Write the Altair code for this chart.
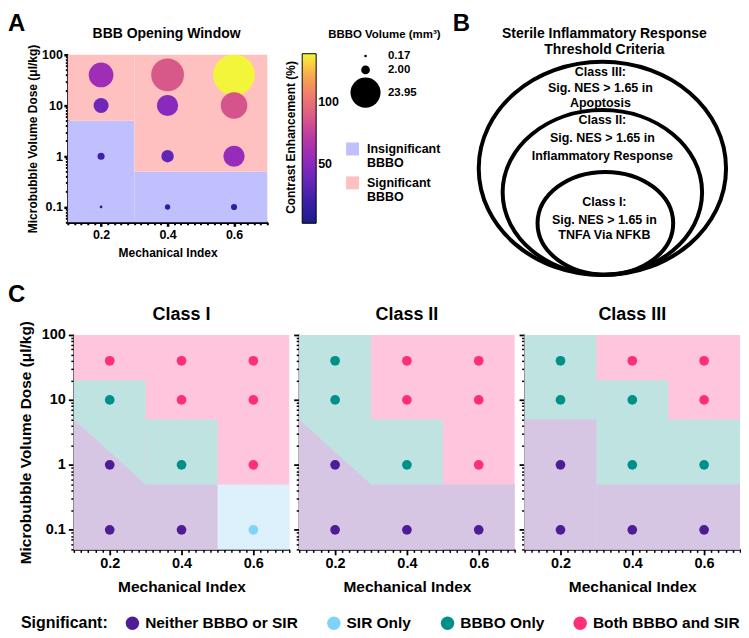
import altair as alt
import pandas as pd

FONT = "Liberation Sans"

# ---------------- Panel A : BBB opening window ----------------
a_mi       = [0.2, 0.4, 0.6, 0.2, 0.4, 0.6, 0.2, 0.4, 0.6, 0.2, 0.4, 0.6]
a_dose     = [40, 40, 40, 10, 10, 10, 1, 1, 1, 0.1, 0.1, 0.1]
a_volume   = [16.2, 28.4, 45.8, 6.0, 11.9, 18.6, 1.33, 4.06, 11.9, 0.2, 0.75, 1.0]
a_contrast = [59, 87, 139, 40, 51, 85, 22, 34, 56, 8, 12, 14]

a_region_names  = ["Insignificant BBBO", "Significant BBBO"]
a_region_colors = ["#c0c0ff", "#ffc0c0"]
a_reg_name = ["Insignificant BBBO", "Insignificant BBBO", "Significant BBBO", "Significant BBBO"]
a_reg_mi0  = [0.1, 0.3, 0.1, 0.3]
a_reg_mi1  = [0.3, 0.7, 0.3, 0.7]
a_reg_d0   = [0.05, 0.05, 5, 0.5]
a_reg_d1   = [5, 0.5, 100, 100]

volume_legend_values   = [0.17, 2.00, 23.95]
contrast_legend_values = [50, 100]
contrast_domain = [2, 139]
contrast_title = "Contrast Enhancement (%)"
contrast_colors = ["#1b1b88", "#3a1fa6", "#6526b8", "#902bbe", "#b83aa4",
                   "#d85a88", "#ec7c6e", "#f6ab4e", "#f2f53a"]
a_title = "BBB Opening Window"

# ---------------- Panel B : threshold criteria diagram ----------------
b_title = ["Sterile Inflammatory Response", "Threshold Criteria"]
b_ellipses = [  # centre x, centre y, width, height (diagram units)
    (132, 114, 248, 214),
    (132, 138, 200, 165),
    (135, 169, 136, 103),
]
b_text_x = [130, 130, 130, 132, 132, 132, 134, 134, 134]
b_text_y = [17, 33, 48, 65, 84, 102, 148, 166, 181]
b_text   = ["Class III:", "Sig. NES > 1.65 in", "Apoptosis",
            "Class II:", "Sig. NES > 1.65 in", "Inflammatory Response",
            "Class I:", "Sig. NES > 1.65 in", "TNFA Via NFKB"]

# ---------------- Panel C : classes ----------------
categories    = ["Neither BBBO or SIR", "SIR Only", "BBBO Only", "Both BBBO and SIR"]
point_colors  = ["#4f1c97", "#7fd3f8", "#00908a", "#ff2e79"]
region_colors = ["#d6c6e4", "#dcf1fc", "#bfe3e1", "#ffc5dc"]
code = {"Neither": categories[0], "SIR": categories[1], "BBBO": categories[2], "Both": categories[3]}

c_mi   = [0.2, 0.4, 0.6, 0.2, 0.4, 0.6, 0.2, 0.4, 0.6, 0.2, 0.4, 0.6]
c_dose = [40, 40, 40, 10, 10, 10, 1, 1, 1, 0.1, 0.1, 0.1]
class_names = ["Class I", "Class II", "Class III"]
class_status = {
    "Class I":   ["Both", "Both", "Both", "BBBO", "Both", "Both",
                  "Neither", "BBBO", "Both", "Neither", "Neither", "SIR"],
    "Class II":  ["BBBO", "Both", "Both", "BBBO", "Both", "Both",
                  "Neither", "BBBO", "Both", "Neither", "Neither", "Neither"],
    "Class III": ["BBBO", "Both", "Both", "BBBO", "BBBO", "Both",
                  "Neither", "BBBO", "BBBO", "Neither", "Neither", "Neither"],
}
class_rects = {  # status, MI from, MI to, dose from, dose to
    "Class I":   [("Both", 0.1, 0.7, 0.05, 100), ("BBBO", 0.1, 0.3, 0.05, 20),
                  ("BBBO", 0.3, 0.5, 0.05, 5), ("SIR", 0.5, 0.7, 0.05, 0.5)],
    "Class II":  [("Both", 0.1, 0.7, 0.05, 100), ("BBBO", 0.1, 0.3, 0.05, 100),
                  ("BBBO", 0.3, 0.5, 0.05, 5)],
    "Class III": [("Both", 0.1, 0.7, 0.05, 100), ("BBBO", 0.1, 0.3, 0.05, 100),
                  ("BBBO", 0.3, 0.5, 0.05, 20), ("BBBO", 0.5, 0.7, 0.05, 5),
                  ("Neither", 0.1, 0.3, 0.05, 5), ("Neither", 0.3, 0.7, 0.05, 0.5)],
}
class_wedge = {  # upper edge of the "Neither" region (MI, dose)
    "Class I":  ([0.1, 0.3, 0.5], [5, 0.5, 0.5]),
    "Class II": ([0.1, 0.3, 0.7], [5, 0.5, 0.5]),
}

X_DOMAIN = [0.1, 0.7]
Y_DOMAIN = [0.05, 100]
X_MAJOR = [0.2, 0.4, 0.6]
Y_MAJOR = [0.1, 1, 10, 100]
X_MINOR = [v for v in (round(0.1 + 0.02 * i, 2) for i in range(31)) if v not in X_MAJOR]
Y_MINOR = [v for v in ([0.05, 0.06, 0.07, 0.08, 0.09] +
                       [round(m * 10 ** e, 4) for e in (-1, 0, 1) for m in range(1, 10)])
           if v not in Y_MAJOR]
Y_TITLE = "Microbubble Volume Dose (\u03bcl/kg)"
X_TITLE = "Mechanical Index"


def major_x(lab, tit, tick, tw, dw, pad, tpad):
    return alt.Axis(values=X_MAJOR, format=".1f", labelFlush=False, labelOverlap=False,
                    labelFontSize=lab, titleFontSize=tit, tickSize=tick, tickWidth=tw,
                    domainWidth=dw, labelPadding=pad, titlePadding=tpad, title=X_TITLE,
                    orient="bottom")


def major_y(lab, tit, tick, tw, dw, pad, tpad, labels=True, offset=0):
    kw = dict(values=Y_MAJOR, labelFlush=False, labelOverlap=False, labelFontSize=lab,
              titleFontSize=tit, tickSize=tick, tickWidth=tw, domainWidth=dw,
              labelPadding=pad, titlePadding=tpad, orient="left", offset=offset)
    if labels:
        kw.update(format="~g", title=Y_TITLE)
    else:
        kw.update(labels=False, title=None)
    return alt.Axis(**kw)


def minor_layer(df, xs, ys, tick, tw, offset=0):
    return alt.Chart(df).mark_point(opacity=0).encode(
        x=alt.X("mi:Q", scale=xs, axis=alt.Axis(values=X_MINOR, labels=False, domain=False,
                                                 tickSize=tick, tickWidth=tw, title=None,
                                                 orient="bottom")),
        y=alt.Y("dose:Q", scale=ys, axis=alt.Axis(values=Y_MINOR, labels=False, domain=False,
                                                   tickSize=tick, tickWidth=tw, title=None,
                                                   orient="left", offset=offset)),
    )


def note(lines, x, y, size, align="center", visible=True):
    return alt.Chart(pd.DataFrame({"t": [lines]})).mark_text(
        fontSize=size, fontWeight="bold", align=align, baseline="alphabetic",
        opacity=1 if visible else 0, color="black"
    ).encode(x=alt.value(x), y=alt.value(y), text="t:N")


# ---------- A ----------
xsA = alt.Scale(domain=X_DOMAIN, nice=False, zero=False)
ysA = alt.Scale(type="log", domain=Y_DOMAIN, nice=False)

a_reg_df = pd.DataFrame({"region": a_reg_name, "x0": a_reg_mi0, "x1": a_reg_mi1,
                         "y0": a_reg_d0, "y1": a_reg_d1})
a_df = pd.DataFrame({"mi": a_mi, "dose": a_dose, "volume": a_volume, "contrast": a_contrast})

a_bg = alt.Chart(a_reg_df).mark_rect().encode(
    x=alt.X("x0:Q", scale=xsA, axis=major_x(12.5, 12, 4, 2.5, 2.5, 2, 7)),
    x2="x1:Q",
    y=alt.Y("y0:Q", scale=ysA, axis=major_y(12.5, 12, 4, 2.5, 2.5, 1.5, 2)),
    y2="y1:Q",
    color=alt.Color("region:N", scale=alt.Scale(domain=a_region_names, range=a_region_colors),
                    legend=alt.Legend(orient="none", legendX=279, legendY=88, title=None,
                                      symbolType="square", symbolSize=169, symbolStrokeWidth=0,
                                      labelExpr="split(datum.label, ' ')", labelFontSize=12.5,
                                      labelOffset=8, rowPadding=6)),
)
a_pts = alt.Chart(a_df).mark_circle(opacity=1, clip=True).encode(
    x=alt.X("mi:Q", scale=xsA, axis=None),
    y=alt.Y("dose:Q", scale=ysA, axis=None),
    size=alt.Size("volume:Q", scale=alt.Scale(domain=[0, 50], range=[0, 1896]),
                  legend=alt.Legend(orient="none", legendX=261, legendY=-26,
                                    title="BBBO Volume (mm\u00b3)", values=volume_legend_values,
                                    format=".2f", symbolFillColor="black", symbolStrokeWidth=0,
                                    symbolOpacity=1, titleFontSize=11.5, labelFontSize=11.5,
                                    symbolOffset=22, labelOffset=7, rowPadding=1, titlePadding=10)),
    fill=alt.Fill("contrast:Q", scale=alt.Scale(domain=contrast_domain, range=contrast_colors),
                  legend=alt.Legend(orient="none", legendX=235, legendY=-1, direction="vertical",
                                    gradientLength=170, gradientThickness=14,
                                    gradientStrokeColor="black", gradientStrokeWidth=1,
                                    title=None, values=contrast_legend_values,
                                    labelFontSize=12.5)),
)
a_cbar_title = alt.Chart(pd.DataFrame({"t": [contrast_title]})).mark_text(
    fontSize=12, fontWeight="bold", angle=270, color="black", baseline="middle", align="center"
).encode(x=alt.value(224), y=alt.value(83), text="t:N")

chartA = alt.layer(
    a_bg, a_pts, minor_layer(a_df, xsA, ysA, 2.5, 2), a_cbar_title,
    note(a_title, 99, -17, 14), note("A", -60, -24, 24, align="left")
).properties(width=200, height=168).resolve_scale(
    color="independent", fill="independent"
).resolve_axis(x="independent", y="independent")

# ---------- B ----------
def ellipse_path(ratio):
    k = 0.5523
    r = ratio
    return ("M -1 0 C -1 %.4f %.4f %.4f 0 %.4f C %.4f %.4f 1 %.4f 1 0 "
            "C 1 %.4f %.4f %.4f 0 %.4f C %.4f %.4f -1 %.4f -1 0 Z") % (
        -k * r, -k, -r, -r, k, -r, -k * r, k * r, k, r, r, -k, r, k * r)

xsB = alt.Scale(domain=[0, 262], nice=False, zero=False)
ysB = alt.Scale(domain=[0, 226], nice=False, zero=False, reverse=True)
b_layers = []
for cx, cy, w, h in b_ellipses:
    b_layers.append(
        alt.Chart(pd.DataFrame({"x": [cx], "y": [cy]})).mark_point(
            shape=ellipse_path(h / w), size=w * w, filled=False, stroke="black",
            strokeWidth=4, opacity=1
        ).encode(x=alt.X("x:Q", scale=xsB, axis=None), y=alt.Y("y:Q", scale=ysB, axis=None))
    )
b_txt = alt.Chart(pd.DataFrame({"x": b_text_x, "y": b_text_y, "t": b_text})).mark_text(
    fontSize=12.5, fontWeight="bold", color="black", baseline="middle"
).encode(x=alt.X("x:Q", scale=xsB, axis=None), y=alt.Y("y:Q", scale=ysB, axis=None), text="t:N")
chartB = alt.layer(*b_layers, b_txt,
                   note(b_title[0], 134, -16.5, 14), note(b_title[1], 134, -0.5, 14),
                   note("B", -18, -24, 24, align="left")).properties(width=262, height=226)

# ---------- C ----------
ysC = alt.Scale(type="log", domain=Y_DOMAIN, nice=False)
fill_scale = alt.Scale(domain=categories, range=region_colors)
pt_scale = alt.Scale(domain=categories, range=point_colors)
C_W, C_H = 216, 215
C1_SHIFT = 6   # Class I panel starts a little right of panel A


def class_panel(name, first):
    shift = C1_SHIFT if first else 0
    xsC = alt.Scale(domain=X_DOMAIN, range=[shift, shift + C_W], nice=False, zero=False)
    rects = class_rects[name]
    rdf = pd.DataFrame({"status": [code[r[0]] for r in rects], "x0": [r[1] for r in rects],
                        "x1": [r[2] for r in rects], "y0": [r[3] for r in rects],
                        "y1": [r[4] for r in rects]})
    layers = [alt.Chart(rdf).mark_rect().encode(
        x=alt.X("x0:Q", scale=xsC, axis=major_x(14.5, 15.5, 5.5, 1.8, 2, 2, 9)), x2="x1:Q",
        y=alt.Y("y0:Q", scale=ysC, axis=major_y(14.5, 15.5, 5.5, 1.8, 2, 3, 8, labels=first,
                                                 offset=-shift)),
        y2="y1:Q",
        fill=alt.Fill("status:N", scale=fill_scale, legend=None))]
    if name in class_wedge:
        wx, wy = class_wedge[name]
        wdf = pd.DataFrame({"mi": wx, "dose": wy, "floor": [Y_DOMAIN[0]] * len(wx),
                            "status": [categories[0]] * len(wx)})
        layers.append(alt.Chart(wdf).mark_area(interpolate="linear").encode(
            x=alt.X("mi:Q", scale=xsC, axis=None),
            y=alt.Y("dose:Q", scale=ysC, axis=None), y2="floor:Q",
            fill=alt.Fill("status:N", scale=fill_scale, legend=None)))
    pdf = pd.DataFrame({"mi": c_mi, "dose": c_dose,
                        "status": [code[s] for s in class_status[name]]})
    layers.append(alt.Chart(pdf).mark_circle(size=95, opacity=1).encode(
        x=alt.X("mi:Q", scale=xsC, axis=None),
        y=alt.Y("dose:Q", scale=ysC, axis=None),
        color=alt.Color("status:N", scale=pt_scale, legend=None)))
    layers.append(minor_layer(pdf, xsC, ysC, 3, 1.5, offset=-shift))
    layers.append(note(name, shift + C_W / 2, -15, 18))
    if first:
        layers.append(note("C", -60, -33, 24, align="left"))
    else:
        layers.append(note("C", 100, -33, 24, align="left", visible=False))
    return alt.layer(*layers).properties(width=C_W + shift, height=C_H).resolve_scale(
        color="independent", fill="independent"
    ).resolve_axis(x="independent", y="independent")


rowC = alt.hconcat(*[class_panel(n, i == 0) for i, n in enumerate(class_names)],
                   spacing=2).resolve_scale(color="independent", fill="independent")

legend_row = alt.Chart(pd.DataFrame({"status": categories})).mark_circle(opacity=0).encode(
    x=alt.value(0), y=alt.value(0),
    color=alt.Color("status:N", scale=pt_scale,
                    legend=alt.Legend(orient="none", legendX=-47, legendY=17,
                                      direction="horizontal",
                                      title="Significant:", titleOrient="left", titleFontSize=16,
                                      titlePadding=16, labelFontSize=15.5, symbolSize=180,
                                      symbolType="circle", symbolOpacity=1, symbolStrokeWidth=0,
                                      labelOffset=5, columnPadding=28))
).properties(width=1, height=1)

row1 = alt.hconcat(chartA, chartB, spacing=12).resolve_scale(
    color="independent", fill="independent", size="independent")

chart = alt.vconcat(row1, rowC, legend_row, spacing=0).resolve_scale(
    color="independent", fill="independent", size="independent"
).properties(padding={"top": 3, "left": 0, "right": 0, "bottom": 0}).configure_view(
    stroke=None
).configure_axis(
    grid=False, labelFont=FONT, titleFont=FONT, labelColor="black", titleColor="black",
    domainColor="black", tickColor="black", labelFontWeight="bold", titleFontWeight="bold"
).configure_legend(
    labelFont=FONT, titleFont=FONT, labelColor="black", titleColor="black",
    labelFontWeight="bold", titleFontWeight="bold"
).configure_text(font=FONT)

chart.save("out.html", embed_options={"renderer": "svg", "actions": False})
